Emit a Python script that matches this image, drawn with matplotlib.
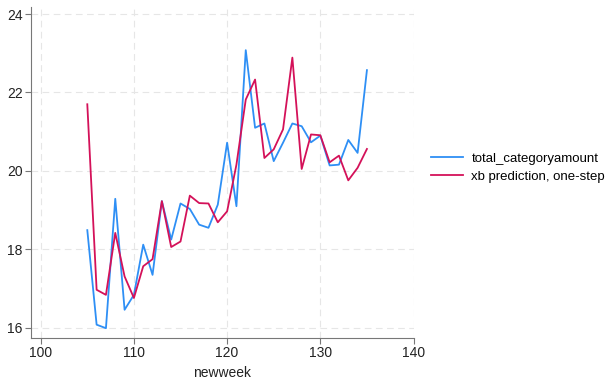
import numpy as np
import matplotlib
matplotlib.use("Agg")
import matplotlib.pyplot as plt

plt.rcParams['font.family'] = ['Liberation Sans', 'DejaVu Sans']

newweek = list(range(105, 136))
total_categoryamount = [18.49, 16.08, 15.99, 19.29, 16.46, 16.84, 18.12, 17.35, 19.23, 18.25,
                        19.17, 19.03, 18.63, 18.55, 19.14, 20.72, 19.10, 23.08, 21.10, 21.21,
                        20.25, 20.72, 21.21, 21.14, 20.73, 20.90, 20.14, 20.16, 20.79, 20.46,
                        22.57]
xb_prediction = [21.70, 16.97, 16.84, 18.42, 17.31, 16.76, 17.57, 17.75, 19.23, 18.06,
                 18.20, 19.37, 19.18, 19.17, 18.69, 18.97, 20.16, 21.82, 22.33, 20.33,
                 20.55, 21.06, 22.89, 20.05, 20.93, 20.91, 20.22, 20.39, 19.76, 20.08,
                 20.56]

fig = plt.figure(figsize=(6.1, 3.8), dpi=100)
ax = fig.add_axes([31 / 610, 1 - 338 / 380, (414 - 31) / 610, (338 - 7) / 380])

ax.plot(newweek, total_categoryamount, color='#2e8ff5', lw=1.3, label='total_categoryamount')
ax.plot(newweek, xb_prediction, color='#d41159', lw=1.3, label='xb prediction, one-step')

ax.set_xlim(98.96, 140.05)
ax.set_ylim(15.74, 24.18)
ax.set_xticks([100, 110, 120, 130, 140])
ax.set_yticks([16, 18, 20, 22, 24])
ax.grid(True, ls=(0, (6, 4)), color='#e6e6e6', lw=0.8)
ax.set_axisbelow(True)
for s in ['top', 'right']:
    ax.spines[s].set_visible(False)
for s in ['left', 'bottom']:
    ax.spines[s].set_color('#777777')
ax.tick_params(direction='out', length=4, pad=2, color='#777777', labelsize=10, labelcolor='#222222')
ax.set_xlabel('newweek', fontsize=10, color='#222222', labelpad=4)

ax.legend(loc='center left', bbox_to_anchor=(1.0, 0.515), frameon=False, fontsize=9.5,
          handlelength=2.4, handletextpad=0.65, labelspacing=0.45, borderaxespad=0.9)

fig.savefig('out.png', dpi=100)
